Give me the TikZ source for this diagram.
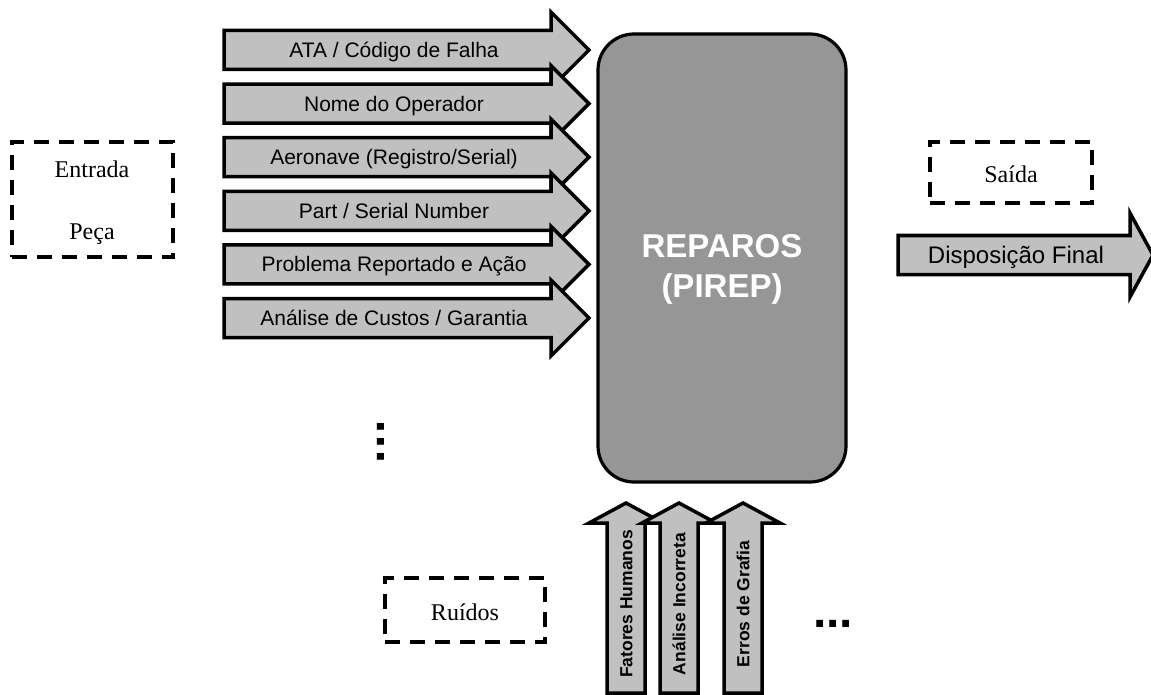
\documentclass[tikz,border=0pt]{standalone}
\usepackage{fontspec}
\setmainfont{Liberation Serif}
\setsansfont{Liberation Sans}
\definecolor{arrowgray}{RGB}{192,192,192}
\definecolor{boxgray}{RGB}{150,150,150}
\tikzset{
  inarrow/.style={draw=black, line width=3.5pt, fill=arrowgray, line join=miter},
  dashbox/.style={draw=black, line width=4pt, dash pattern=on 15pt off 10pt, inner sep=0pt},
  lbl/.style={font=\sffamily\fontsize{21}{25}\selectfont, inner sep=0pt, anchor=base},
  vlbl/.style={font=\sffamily\bfseries\fontsize{17.5}{20}\selectfont, inner sep=0pt, anchor=base, rotate=90},
  serif/.style={font=\rmfamily\fontsize{24}{28}\selectfont, inner sep=0pt, anchor=base},
  bigtxt/.style={font=\sffamily\bfseries\fontsize{33}{40}\selectfont, text=white, inner sep=0pt, anchor=base},
  dots/.style={font=\sffamily\bfseries\fontsize{48}{48}\selectfont, inner sep=0pt, anchor=base},
}
\begin{document}
\begin{tikzpicture}[x=1pt,y=-1pt]
\useasboundingbox (0,0) rectangle (1151,695);
% central box
\node[draw=black, line width=3.2pt, fill=boxgray, rounded corners=36pt,
      minimum width=248pt, minimum height=448pt, inner sep=0pt] (rep) at (722,258) {};
\node[bigtxt] (rep1) at (722,257) {REPAROS};
\node[bigtxt] (rep2) at (722,297) {(PIREP)};
% left input arrows
\foreach \t [count=\i] in {{ATA / Código de Falha},{Nome do Operador},{Aeronave (Registro/Serial)},{Part / Serial Number},{Problema Reportado e Ação},{Análise de Custos / Garantia}}{
  \pgfmathsetmacro{\cy}{50+53.6*(\i-1)}
  \draw[inarrow] (224,\cy-19.5) -- (551,\cy-19.5) -- (551,\cy-38) -- (589,\cy)
     -- (551,\cy+38) -- (551,\cy+19.5) -- (224,\cy+19.5) -- cycle;
  \node[lbl] (in\i) at (394,\cy+7.5) {\t};
}
% output arrow
\draw[inarrow] (898,235.5) -- (1130,235.5) -- (1130,213) -- (1153,255) -- (1130,297)
   -- (1130,274.5) -- (898,274.5) -- cycle;
\node[lbl, font=\sffamily\fontsize{24}{28}\selectfont] (out) at (1016,263.6) {Disposição Final};
% noise arrows
\foreach \cx/\t [count=\i] in {626/{Fatores Humanos},679/{Análise Incorreta},743/{Erros de Grafia}}{
  \draw[inarrow] (\cx-19,693) -- (\cx-19,523) -- (\cx-37,523) -- (\cx,503)
     -- (\cx+37,523) -- (\cx+19,523) -- (\cx+19,693) -- cycle;
  \node[vlbl] (n\i) at (\cx+6.3,604) {\t};
}
% dashed boxes
\node[dashbox, minimum width=161pt, minimum height=115pt] (entrada) at (92.5,199.5) {};
\node[serif] (entradaT) at (92,178) {Entrada};
\node[serif] (pecaT) at (92,240) {Peça};
\node[dashbox, minimum width=162pt, minimum height=61pt] (saida) at (1011,172.5) {};
\node[serif] (saidaT) at (1011,183) {Saída};
\node[dashbox, minimum width=160pt, minimum height=64pt] (ruidos) at (465,610) {};
\node[serif] (ruidosT) at (465,620) {Ruídos};
% dots
\node[dots, rotate=90] (vdots) at (384.3,442) {.\kern1.7pt.\kern1.7pt.};
\node[dots] (hdots) at (833,627.3) {...};
\end{tikzpicture}
\end{document}
